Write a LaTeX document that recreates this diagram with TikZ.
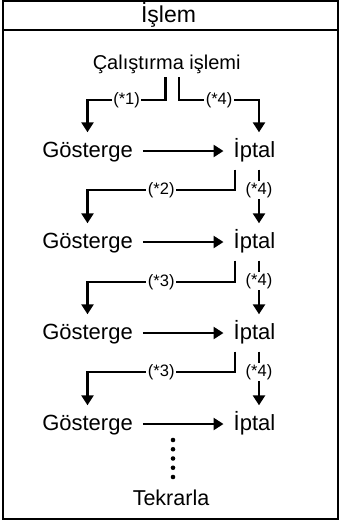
\documentclass[tikz,border=0pt]{standalone}
\usepackage{fontspec}
\setmainfont{Liberation Sans}
\usetikzlibrary{arrows.meta}

\tikzset{
  txt/.style={font=\fontsize{20}{24}\selectfont, inner sep=3pt},
  rowtxt/.style={font=\fontsize{22}{26}\selectfont, inner xsep=10pt, inner ysep=0pt,
    text height=24.5pt, text depth=12.5pt},
  lbl/.style={font=\fontsize{16.5}{19}\selectfont, fill=white, inner xsep=1.5pt, inner ysep=1pt},
  conn/.style={line width=2.5pt, -{Triangle[length=10pt,width=12pt]}},
  frame/.style={line width=1.4pt}
}

\begin{document}
\begin{tikzpicture}[x=1pt,y=-1pt]
	\useasboundingbox (0,0) rectangle (342,524);

	% frame and header
	\draw[frame] (3,1) rectangle (338,519);
	\draw[frame] (3,30) -- (338,30);
	\node[txt, anchor=base, font=\fontsize{23}{26}\selectfont] (title) at (168.5,23) {İşlem};

	\node[txt, anchor=base] (start) at (166.7,70) {Çalıştırma işlemi};

	% rows
	\foreach \i/\yb in {1/157, 2/248, 3/339, 4/430} {
		\node[rowtxt, anchor=base] (g\i) at (87.5,\yb) {Gösterge};
		\node[rowtxt, anchor=base] (p\i) at (254.5,\yb) {İptal};
		\coordinate (r\i) at ([xshift=4.5pt]p\i.north);
		\draw[conn] (g\i) -- (p\i);
	}

	\coordinate (s0) at (0,100);
	\coordinate (s1) at (0,190);
	\coordinate (s2) at (0,282);
	\coordinate (s3) at (0,372);

	\draw[conn] ([xshift=-1pt]start.south) |- node[lbl, pos=0.75] {(*1)} (s0 -| g1) -- (g1.north);
	\draw[conn] ([xshift=12.5pt]start.south) |- node[lbl, pos=0.75] {(*4)} (s0 -| r1) -- (r1);

	\foreach \i/\j/\n in {1/2/2, 2/3/3, 3/4/3} {
		\draw[conn] ([xshift=-19.5pt]p\i.south) |- node[lbl, pos=0.75] {(*\n)} (s\i -| g\j) -- (g\j.north);
		\draw[conn] ([xshift=4.5pt]p\i.south) -- node[lbl, pos=0.38] {(*4)} (r\j);
	}

	% repeat
	\foreach \k in {0,...,4}
		\fill (173,440+\k*9.25) circle (2.3pt);
	\node[txt, anchor=base, font=\fontsize{21.5}{25}\selectfont] (again) at (171,505) {Tekrarla};

\end{tikzpicture}
\end{document}
